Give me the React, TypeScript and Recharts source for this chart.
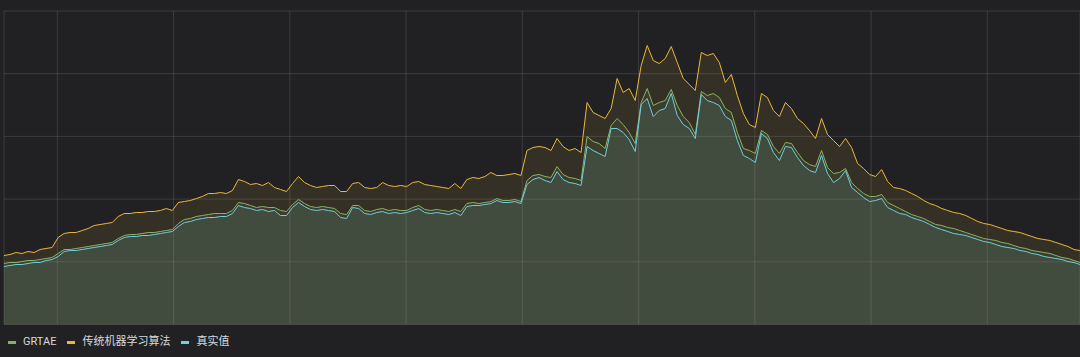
import { AreaChart, Area, XAxis, YAxis, CartesianGrid } from "recharts";

// GRTAE
const grtae = [
  61, 62, 62, 63, 64, 64, 65, 66, 67, 71,
  75, 75, 76, 77, 78, 79, 80, 81, 82, 86,
  89, 90, 90, 91, 92, 92, 93, 94, 95, 101,
  105, 106, 108, 109, 110, 111, 111, 111, 114, 122,
  121, 119, 117, 118, 117, 117, 114, 113, 120, 125,
  121, 118, 117, 118, 117, 116, 111, 110, 119, 119,
  114, 113, 115, 116, 114, 115, 114, 114, 117, 119,
  115, 114, 115, 114, 113, 115, 113, 121, 122, 121,
  122, 123, 126, 124, 124, 125, 123, 144, 149, 150,
  148, 147, 158, 150, 147, 146, 144, 188, 183, 181,
  176, 199, 206, 200, 192, 181, 222, 236, 219, 222,
  224, 235, 219, 208, 202, 190, 233, 229, 231, 227,
  216, 212, 192, 176, 174, 171, 194, 190, 178, 171,
  182, 181, 172, 164, 160, 158, 174, 157, 151, 152,
  156, 142, 136, 131, 128, 128, 130, 122, 119, 116,
  113, 110, 108, 106, 103, 100, 99, 97, 96, 94,
  92, 90, 88, 86, 85, 84, 82, 81, 79, 77,
  76, 74, 73, 72, 71, 69, 67, 66, 64, 62,
];

// 传统机器学习算法
const traditional = [
  69, 70, 72, 71, 73, 72, 75, 76, 77, 87,
  91, 92, 92, 94, 96, 99, 100, 101, 102, 108,
  111, 111, 112, 112, 113, 113, 114, 116, 114, 122,
  123, 124, 126, 128, 131, 131, 132, 131, 134, 145,
  143, 140, 141, 139, 142, 137, 135, 133, 141, 148,
  142, 139, 137, 138, 139, 139, 133, 133, 141, 142,
  137, 136, 137, 142, 139, 138, 139, 138, 142, 143,
  140, 139, 138, 137, 136, 141, 136, 145, 147, 146,
  148, 152, 149, 149, 150, 151, 149, 174, 177, 178,
  177, 174, 186, 178, 174, 176, 172, 222, 212, 209,
  206, 216, 246, 232, 236, 224, 259, 279, 264, 261,
  266, 278, 262, 246, 240, 234, 272, 269, 271, 262,
  242, 250, 229, 211, 200, 197, 231, 227, 214, 208,
  222, 216, 206, 201, 194, 186, 206, 190, 184, 178,
  186, 177, 161, 156, 150, 148, 155, 143, 137, 136,
  134, 131, 128, 124, 121, 119, 116, 114, 112, 111,
  109, 106, 103, 101, 100, 98, 96, 94, 93, 92,
  90, 88, 86, 85, 84, 82, 80, 78, 75, 74,
];

// 真实值
const actual = [
  58, 59, 60, 60, 61, 62, 62, 64, 65, 68,
  73, 74, 74, 75, 76, 77, 78, 79, 80, 84,
  87, 88, 88, 89, 89, 90, 91, 92, 93, 98,
  102, 103, 105, 106, 107, 107, 108, 108, 111, 119,
  117, 116, 114, 115, 113, 114, 109, 109, 117, 122,
  118, 115, 114, 115, 114, 113, 107, 106, 117, 116,
  111, 110, 112, 113, 111, 112, 111, 112, 114, 116,
  112, 111, 112, 111, 110, 112, 109, 118, 119, 119,
  120, 121, 124, 122, 122, 123, 121, 140, 145, 147,
  144, 142, 153, 145, 142, 141, 139, 178, 174, 171,
  168, 196, 196, 192, 185, 173, 220, 226, 208, 214,
  216, 231, 209, 200, 196, 186, 230, 224, 222, 219,
  208, 204, 184, 169, 166, 162, 191, 186, 172, 164,
  178, 177, 167, 159, 154, 152, 169, 151, 142, 146,
  154, 137, 132, 127, 123, 124, 126, 117, 114, 111,
  110, 107, 105, 103, 100, 97, 95, 93, 91, 90,
  89, 87, 85, 83, 82, 80, 78, 77, 76, 74,
  73, 71, 70, 68, 67, 66, 65, 63, 62, 60,
];

const xTicks = [8.87, 28.21, 47.55, 66.88, 86.23, 105.57, 124.9, 144.24, 163.58];
const yTicks = [0, 62.7, 125.4, 188.1, 250.8, 313.5];

const series = [
  { key: "grtae", name: "GRTAE", color: "#7EB26D" },
  { key: "traditional", name: "传统机器学习算法", color: "#EAB839" },
  { key: "actual", name: "真实值", color: "#6ED0E0" },
];

const data = grtae.map((v, i) => ({
  step: i,
  grtae: v,
  traditional: traditional[i],
  actual: actual[i],
}));

export default function App() {
  return (
    <div
      style={{
        position: "fixed",
        left: 0,
        top: 0,
        width: 1080,
        height: 357,
        background: "#212124",
        fontFamily: "Roboto, 'Noto Sans CJK SC', sans-serif",
      }}
    >
      <AreaChart width={1080} height={357} data={data} margin={{ top: 11, right: 0, bottom: 32.5, left: 4 }}>
        <CartesianGrid stroke="#ffffff" strokeOpacity={0.12} />
        <XAxis dataKey="step" type="number" domain={[0, data.length - 1]} ticks={xTicks} hide />
        <YAxis type="number" domain={[0, 313.5]} ticks={yTicks} hide />
        {series.map((s) => (
          <Area
            key={s.key}
            type="linear"
            dataKey={s.key}
            name={s.name}
            stroke={s.color}
            strokeWidth={1}
            fill={s.color}
            fillOpacity={0.1}
            dot={false}
            activeDot={false}
            isAnimationActive={false}
          />
        ))}
      </AreaChart>
      <div
        style={{
          position: "absolute",
          left: 8,
          top: 334,
          display: "flex",
          alignItems: "center",
          fontSize: 11,
          lineHeight: "16px",
          color: "#d8d9da",
        }}
      >
        {series.map((s) => (
          <div key={s.key} style={{ display: "flex", alignItems: "center", marginRight: 11 }}>
            <span style={{ display: "inline-block", width: 8, height: 3, background: s.color, marginRight: 7 }} />
            <span>{s.name}</span>
          </div>
        ))}
      </div>
    </div>
  );
}
